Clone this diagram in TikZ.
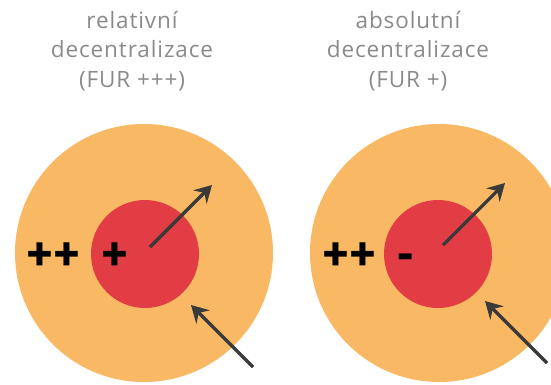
\documentclass[tikz,border=0pt]{standalone}
\usepackage{fontspec}
\setmainfont{Open Sans}[LetterSpace=4]
\newfontfamily\signfont{PT Sans}
\usetikzlibrary{arrows.meta}
\definecolor{outerc}{HTML}{F9B863}
\definecolor{innerc}{HTML}{E23C44}
\definecolor{titlec}{HTML}{8A8A8A}
\definecolor{arrc}{HTML}{3A3A3A}
\tikzset{
  outerdisk/.style={fill=outerc, draw=none},
  innerdisk/.style={fill=innerc, draw=none},
  titletext/.style={text=titlec, font=\fontsize{22.5}{29.5}\selectfont, align=center, inner sep=0pt},
  signtext/.style={text=black, font=\signfont\bfseries\fontsize{51}{51}\selectfont, inner sep=0pt},
  flowarrow/.style={draw=arrc, line width=3.2pt, -{Stealth[length=17pt,width=19pt,inset=6pt]}}
}
\begin{document}
\begin{tikzpicture}[x=1pt,y=-1pt]
\useasboundingbox (0,0) rectangle (551,384);
\clip (0,0) rectangle (551,384);
% left
\fill[outerdisk] (144,253) circle (129);
\fill[innerdisk] (145,254) circle (54);
\node[titletext] (t1) at (132,51) {relativní\\decentralizace\\(FUR +++)};
\node[signtext] (pp1) at (53,257) {++};
\node[signtext] (p1) at (115,257) {+};
\coordinate (a1s) at (150,247);
\coordinate (a1e) at (212,185);
\draw[flowarrow] (a1s) -- (a1e);
\coordinate (b1s) at (253,367);
\coordinate (b1e) at (191,305);
\draw[flowarrow] (b1s) -- (b1e);
% right
\fill[outerdisk] (439,253) circle (129);
\fill[innerdisk] (438,254) circle (54);
\node[titletext] (t2) at (408,51) {absolutní\\decentralizace\\(FUR +)};
\node[signtext] (pp2) at (349,257) {++};
\node[signtext] (m2) at (405.5,257) {\vphantom{+}-};
\coordinate (a2s) at (443,245);
\coordinate (a2e) at (505,183);
\draw[flowarrow] (a2s) -- (a2e);
\coordinate (b2s) at (547,363);
\coordinate (b2e) at (485,301);
\draw[flowarrow] (b2s) -- (b2e);
\end{tikzpicture}
\end{document}
